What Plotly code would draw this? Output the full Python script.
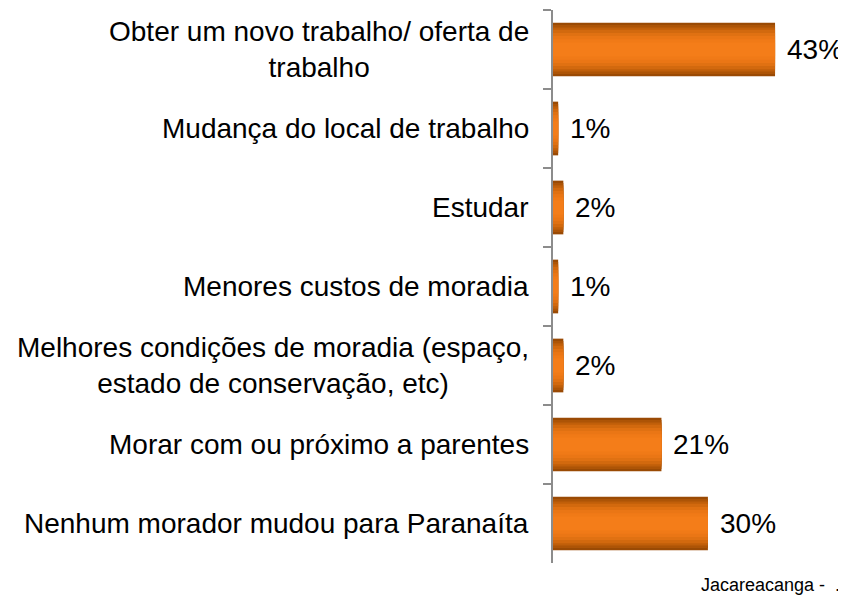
import plotly.graph_objs as go

# dados
categorias = [
    "Obter um novo trabalho/ oferta de<br>trabalho",
    "Mudança do local de trabalho",
    "Estudar",
    "Menores custos de moradia",
    "Melhores condições de moradia (espaço,<br>estado de conservação, etc)",
    "Morar com ou próximo a parentes",
    "Nenhum morador mudou para Paranaíta",
]
valores = [43, 1, 2, 1, 2, 21, 30]
rotulos = ["43%", "1%", "2%", "1%", "2%", "21%", "30%"]

fonte = "Liberation Sans, Arial, sans-serif"

# camadas para imitar o degradê cilíndrico das barras
larguras = [0.68, 0.62, 0.56, 0.50, 0.42, 0.34, 0.26, 0.18]
cores = ["#9a4a04", "#ad5406", "#c05f0a", "#d2690e", "#e07112", "#ea7615", "#f07a17", "#f47d19"]

fig = go.Figure()
for w, c in zip(larguras, cores):
    fig.add_trace(go.Bar(
        x=valores,
        y=categorias,
        orientation="h",
        width=w,
        marker=dict(color=c, line=dict(width=0)),
        showlegend=False,
        hoverinfo="skip",
    ))

# rótulos das categorias (linhas centralizadas, bloco encostado no eixo)
for cat in categorias:
    fig.add_annotation(
        x=0, xref="paper", y=cat, yref="y",
        text=cat, showarrow=False,
        xanchor="right", xshift=-22, align="center",
        font=dict(family=fonte, size=28, color="#000000"),
    )

# valores
for v, cat, r in zip(valores, categorias, rotulos):
    fig.add_annotation(
        x=v, y=cat, text=r, showarrow=False,
        xanchor="left", xshift=10,
        font=dict(family=fonte, size=28, color="#000000"),
    )

fig.add_annotation(
    x=1, xref="paper", y=0, yref="paper",
    text="Jacareacanga - &nbsp;.", showarrow=False,
    xanchor="right", yanchor="middle", xshift=5, yshift=-22,
    font=dict(family=fonte, size=18, color="#000000"),
)

# a página tem 8px de margem no corpo, por isso 838x589
fig.update_layout(
    barmode="overlay",
    width=838, height=589,
    margin=dict(l=545, r=9, t=2, b=34),
    paper_bgcolor="white",
    plot_bgcolor="white",
    xaxis=dict(range=[0, 55], visible=False),
    yaxis=dict(
        autorange="reversed",
        showticklabels=False,
        showline=True, linecolor="#8c8c8c", linewidth=2,
        ticks="outside", tickson="boundaries", ticklen=8,
        tickcolor="#8c8c8c", tickwidth=2,
        showgrid=False, zeroline=False,
    ),
)

fig.write_html("out.html")
